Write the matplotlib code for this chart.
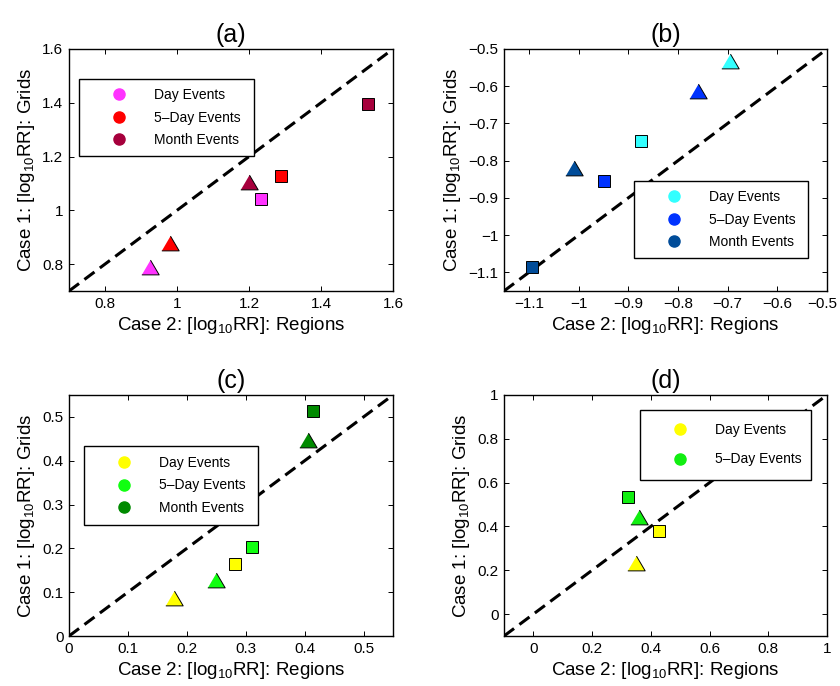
import matplotlib
matplotlib.use("Agg")
import matplotlib.pyplot as plt
from matplotlib.lines import Line2D
from matplotlib.ticker import FuncFormatter
from matplotlib.transforms import ScaledTranslation
import numpy as np

plt.rcParams['font.family'] = ['Liberation Sans', 'DejaVu Sans']
plt.rcParams['mathtext.fontset'] = 'custom'
plt.rcParams['mathtext.rm'] = 'Liberation Sans'
plt.rcParams['mathtext.it'] = 'Liberation Sans'

# values: triangles and squares, ordered Day, 5-Day, Month
a_tri_x = [0.925, 0.98, 1.20]
a_tri_y = [0.79, 0.877, 1.104]
a_sq_x = [1.232, 1.289, 1.53]
a_sq_y = [1.041, 1.127, 1.397]

b_tri_x = [-0.695, -0.760, -1.010]
b_tri_y = [-0.532, -0.612, -0.819]
b_sq_x = [-0.875, -0.949, -1.093]
b_sq_y = [-0.747, -0.855, -1.086]

c_tri_x = [0.178, 0.249, 0.406]
c_tri_y = [0.087, 0.127, 0.447]
c_sq_x = [0.281, 0.311, 0.415]
c_sq_y = [0.165, 0.203, 0.514]

d_tri_x = [0.349, 0.361]
d_tri_y = [0.235, 0.444]
d_sq_x = [0.429, 0.321]
d_sq_y = [0.379, 0.535]

labels3 = ['Day Events', '5\u2013Day Events', 'Month Events']
labels2 = ['Day Events', '5\u2013Day Events']

colors_a = ['#ff33ff', '#ff0000', '#a6003c']
colors_b = ['#33ffff', '#0033ff', '#004c99']
colors_c = ['#ffff00', '#11ff11', '#008a00']
colors_d = ['#ffff00', '#11ee11']

panels = [
    dict(title='(a)', tx=a_tri_x, ty=a_tri_y, sx=a_sq_x, sy=a_sq_y, colors=colors_a,
         labels=labels3, lim=(0.7, 1.6), ticks=[0.8, 1.0, 1.2, 1.4, 1.6],
         rect=[69, 49, 393, 291], leg=(0.031, 0.566, 0.540, 0.310),
         ls=0.62, bp=0.65, hl=4.46, htp=0.29),
    dict(title='(b)', tx=b_tri_x, ty=b_tri_y, sx=b_sq_x, sy=b_sq_y, colors=colors_b,
         labels=labels3, lim=(-1.15, -0.5), ticks=np.arange(-1.1, -0.45, 0.1),
         rect=[504, 49, 827, 291], leg=(0.402, 0.145, 0.539, 0.310),
         ls=0.62, bp=0.65, hl=4.46, htp=0.29),
    dict(title='(c)', tx=c_tri_x, ty=c_tri_y, sx=c_sq_x, sy=c_sq_y, colors=colors_c,
         labels=labels3, lim=(0.0, 0.55), ticks=np.arange(0, 0.55, 0.1),
         rect=[69, 395, 393, 636], leg=(0.046, 0.473, 0.537, 0.315),
         ls=0.62, bp=0.7, hl=4.36, htp=0.34),
    dict(title='(d)', tx=d_tri_x, ty=d_tri_y, sx=d_sq_x, sy=d_sq_y, colors=colors_d,
         labels=labels2, lim=(-0.1, 1.0), ticks=np.arange(0, 1.05, 0.2),
         rect=[504, 395, 827, 636], leg=(0.421, 0.664, 0.529, 0.274),
         ls=1.1, bp=0.95, hl=3.86, htp=0.59),
]

W, H = 840, 686
fig = plt.figure(figsize=(W / 100, H / 100), dpi=100)

tri = [(-1, -0.85), (1, -0.85), (0, 0.85)]
fmt = FuncFormatter(lambda v, p: ('%g' % round(v, 6)).replace('-', '\u2212'))

for p in panels:
    l, t, r, b = p['rect']
    ax = fig.add_axes([l / W, 1 - b / H, (r - l) / W, (b - t) / H])
    lo, hi = p['lim']
    ax.plot([lo, hi], [lo, hi], ls='--', color='k', lw=2.2, dashes=(4.1, 2.2), zorder=1)
    for i, c in enumerate(p['colors']):
        ax.plot(p['tx'][i], p['ty'][i], ls='none', marker=tri, markersize=12.5,
                markerfacecolor=c, markeredgecolor='k', markeredgewidth=0.7, zorder=3)
        ax.plot(p['sx'][i], p['sy'][i], ls='none', marker='s', markersize=9,
                markerfacecolor=c, markeredgecolor='k', markeredgewidth=0.7, zorder=3)
    ax.set_xlim(lo, hi)
    ax.set_ylim(lo, hi)
    ax.set_xticks(p['ticks'])
    ax.set_yticks(p['ticks'])
    ax.xaxis.set_major_formatter(fmt)
    ax.yaxis.set_major_formatter(fmt)
    ax.tick_params(direction='in', top=True, right=True, length=3.6, width=0.7,
                   labelsize=11, pad=4)
    for s in ax.spines.values():
        s.set_linewidth(1.0)
    ax.set_title(p['title'], fontsize=18, pad=5)
    ax.set_xlabel(r'Case 2: [log$_{\mathrm{10}}$RR]: Regions', fontsize=13.5, labelpad=3)
    ax.set_ylabel(r'Case 1: [log$_{\mathrm{10}}$RR]: Grids', fontsize=13.5, labelpad=4)

    if p['title'] == '(b)':
        # last x label sits right at the figure edge, nudge it left a bit
        lab = ax.get_xticklabels()[-1]
        lab.set_transform(lab.get_transform() + ScaledTranslation(-5 / 100, 0, fig.dpi_scale_trans))

    handles = [Line2D([], [], ls='none', marker='o', markersize=8, color=c,
                      markeredgecolor=c) for c in p['colors']]
    leg = ax.legend(handles, p['labels'], loc='upper left', bbox_to_anchor=p['leg'],
                    mode='expand', fontsize=10, frameon=True, fancybox=False,
                    framealpha=1, edgecolor='k', borderpad=p['bp'],
                    labelspacing=p['ls'], handlelength=p['hl'],
                    handletextpad=p['htp'], borderaxespad=0)
    leg.get_frame().set_linewidth(1.0)
    leg.set_zorder(5)

fig.savefig('out.png', dpi=100)
